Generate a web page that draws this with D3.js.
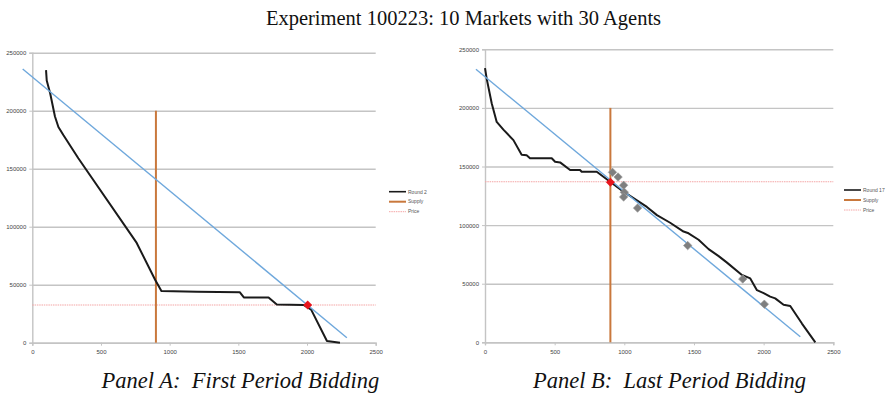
<!DOCTYPE html>
<html>
<head>
<meta charset="utf-8">
<script src="https://cdn.jsdelivr.net/npm/d3@7"></script>
<style>
  body { margin: 0; background: #fff; }
  svg { display: block; }
</style>
</head>
<body>
<div id="chart"></div>
<script>
const width = 889;
const height = 399;

// tick values shared by both panels
const xTicks = [0, 500, 1000, 1500, 2000, 2500];
const yTicks = [0, 50000, 100000, 150000, 200000, 250000];

// Panel A: round 2 bids
const bidsA = [
  [100, 235000], [105, 226000], [130, 215000], [165, 195000], [190, 186000],
  [226, 179000], [335, 159000], [760, 86000], [895, 54000], [940, 44500],
  [1200, 44000], [1510, 43500], [1540, 39000], [1720, 39000], [1780, 33000],
  [1975, 32500], [2030, 28500], [2145, 1500], [2240, 0]
];
const demandA = [[-70, 236000], [2290, 4300]];
const supplyA = [[900, 0], [900, 200000]];
const priceA = 32500;
const clearA = [[2005, 32500]];
const agentsA = [];

// Panel B: round 17 bids
const bidsB = [
  [0, 234000], [12, 225000], [48, 204000], [84, 188000], [132, 181500],
  [204, 172500], [263, 160000], [299, 159500], [323, 157000], [479, 157000],
  [503, 154000], [539, 153500], [611, 147000], [682, 147000], [694, 145500],
  [802, 145500], [898, 137000], [994, 128500], [1162, 115500], [1234, 108500],
  [1329, 102000], [1425, 94500], [1461, 93000], [1533, 87500], [1605, 79500],
  [1677, 73500], [1737, 68000], [1844, 57500], [1904, 54500], [1952, 44500],
  [2000, 42000], [2047, 39000], [2083, 37500], [2143, 32000], [2191, 31000],
  [2275, 16000], [2371, 0]
];
const demandB = [[-65, 233000], [2263, 4800]];
const supplyB = [[900, 0], [900, 200000]];
const priceB = 137000;
const clearB = [[900, 136500]];
const agentsB = [
  [915, 145000], [955, 141000], [995, 134000], [1000, 128000], [995, 124000],
  [1095, 114500], [1455, 82500], [1850, 54000], [2005, 32500]
];

const panels = [
  { bids: bidsA, demand: demandA, supply: supplyA, price: priceA, clear: clearA, agents: agentsA,
    label: "Round 2", caption: "Panel A:  First Period Bidding",
    left: 32.3, right: 375.7, top: 52.7, bottom: 342.7, legendX: 389, legendY: 191.7, captionX: 101.5 },
  { bids: bidsB, demand: demandB, supply: supplyB, price: priceB, clear: clearB, agents: agentsB,
    label: "Round 17", caption: "Panel B:  Last Period Bidding",
    left: 485, right: 833.3, top: 49.3, bottom: 342.3, legendX: 844, legendY: 190, captionX: 533 }
];

const colors = {
  bids: "#1a1a1a",
  demand: "#6fa8dc",
  supply: "#c9783c",
  price: "#f4a6a6",
  grid: "#c4c4c4",
  agent: "#7f7f7f",
  clear: "#e8141c"
};

const svg = d3.select("#chart")
  .append("svg")
  .attr("width", width)
  .attr("height", height);

svg.append("text")
  .attr("x", 463.5)
  .attr("y", 24.5)
  .attr("text-anchor", "middle")
  .attr("font-family", "Liberation Serif, Times New Roman, serif")
  .attr("font-size", 20.5)
  .attr("fill", "#111")
  .text("Experiment 100223: 10 Markets with 30 Agents");

const diamond = d3.symbol().type(d3.symbolSquare);

panels.forEach(p => {
  const x = d3.scaleLinear().domain([0, 2500]).range([p.left, p.right]);
  const y = d3.scaleLinear().domain([0, 250000]).range([p.bottom, p.top]);
  const g = svg.append("g");

  // gridlines
  g.append("g")
    .attr("transform", `translate(${p.left},0)`)
    .call(d3.axisLeft(y).tickValues(yTicks).tickSize(-(p.right - p.left)).tickFormat(""))
    .call(a => a.select(".domain").remove())
    .call(a => a.selectAll("line").attr("stroke", colors.grid).attr("stroke-width", 1.4));

  // y axis
  g.append("g")
    .attr("transform", `translate(${p.left},0)`)
    .call(d3.axisLeft(y).tickValues(yTicks).tickSize(3).tickPadding(3).tickFormat(d3.format("d")))
    .call(a => a.select(".domain").attr("stroke", colors.grid).attr("stroke-width", 1.4))
    .call(a => a.selectAll("line").attr("stroke", colors.grid))
    .call(a => a.selectAll("text").attr("font-family", "Liberation Sans, Arial, sans-serif")
      .attr("font-size", 6).attr("fill", "#444"));

  // x axis
  g.append("g")
    .attr("transform", `translate(0,${p.bottom})`)
    .call(d3.axisBottom(x).tickValues(xTicks).tickSize(3).tickPadding(4).tickFormat(d3.format("d")))
    .call(a => a.select(".domain").attr("stroke", colors.grid).attr("stroke-width", 1.4))
    .call(a => a.selectAll("line").attr("stroke", colors.grid))
    .call(a => a.selectAll("text").attr("font-family", "Liberation Sans, Arial, sans-serif")
      .attr("font-size", 6).attr("fill", "#444"));

  const line = d3.line().x(d => x(d[0])).y(d => y(d[1]));

  // price
  g.append("path")
    .attr("d", line([[0, p.price], [2500, p.price]]))
    .attr("fill", "none")
    .attr("stroke", colors.price)
    .attr("stroke-width", 1.2)
    .attr("stroke-dasharray", "1.5,0.8");

  // supply
  g.append("path")
    .attr("d", line(p.supply))
    .attr("fill", "none")
    .attr("stroke", colors.supply)
    .attr("stroke-width", 2);

  // bids
  g.append("path")
    .attr("d", line(p.bids))
    .attr("fill", "none")
    .attr("stroke", colors.bids)
    .attr("stroke-width", 2)
    .attr("stroke-linejoin", "round");

  // demand estimate
  g.append("path")
    .attr("d", line(p.demand))
    .attr("fill", "none")
    .attr("stroke", colors.demand)
    .attr("stroke-width", 1.4);

  // agent points
  g.selectAll(".agent")
    .data(p.agents)
    .join("path")
    .attr("class", "agent")
    .attr("d", diamond.size(36))
    .attr("transform", d => `translate(${x(d[0])},${y(d[1])}) rotate(45)`)
    .attr("fill", colors.agent)
    .attr("stroke", "#999")
    .attr("stroke-width", 0.6);

  // clearing point
  g.selectAll(".clear")
    .data(p.clear)
    .join("path")
    .attr("class", "clear")
    .attr("d", diamond.size(40))
    .attr("transform", d => `translate(${x(d[0])},${y(d[1])}) rotate(45)`)
    .attr("fill", colors.clear);

  // legend
  const legend = [
    { name: p.label, color: colors.bids, w: 1.6, dash: null },
    { name: "Supply", color: colors.supply, w: 2, dash: null },
    { name: "Price", color: colors.price, w: 1, dash: "1.5,0.8" }
  ];
  const lg = g.append("g").attr("transform", `translate(${p.legendX},${p.legendY})`);
  legend.forEach((l, i) => {
    lg.append("line")
      .attr("x1", 0).attr("x2", 17)
      .attr("y1", i * 10).attr("y2", i * 10)
      .attr("stroke", l.color)
      .attr("stroke-width", l.w)
      .attr("stroke-dasharray", l.dash);
    lg.append("text")
      .attr("x", 19)
      .attr("y", i * 10 + 1.8)
      .attr("font-family", "Liberation Sans, Arial, sans-serif")
      .attr("font-size", 5)
      .attr("fill", "#555")
      .text(l.name);
  });

  // caption
  svg.append("text")
    .attr("x", p.captionX)
    .attr("y", 388)
    .attr("font-family", "Liberation Serif, Times New Roman, serif")
    .attr("font-style", "italic")
    .attr("font-size", 22.5)
    .attr("fill", "#111")
    .style("white-space", "pre")
    .text(p.caption);
});
</script>
</body>
</html>
